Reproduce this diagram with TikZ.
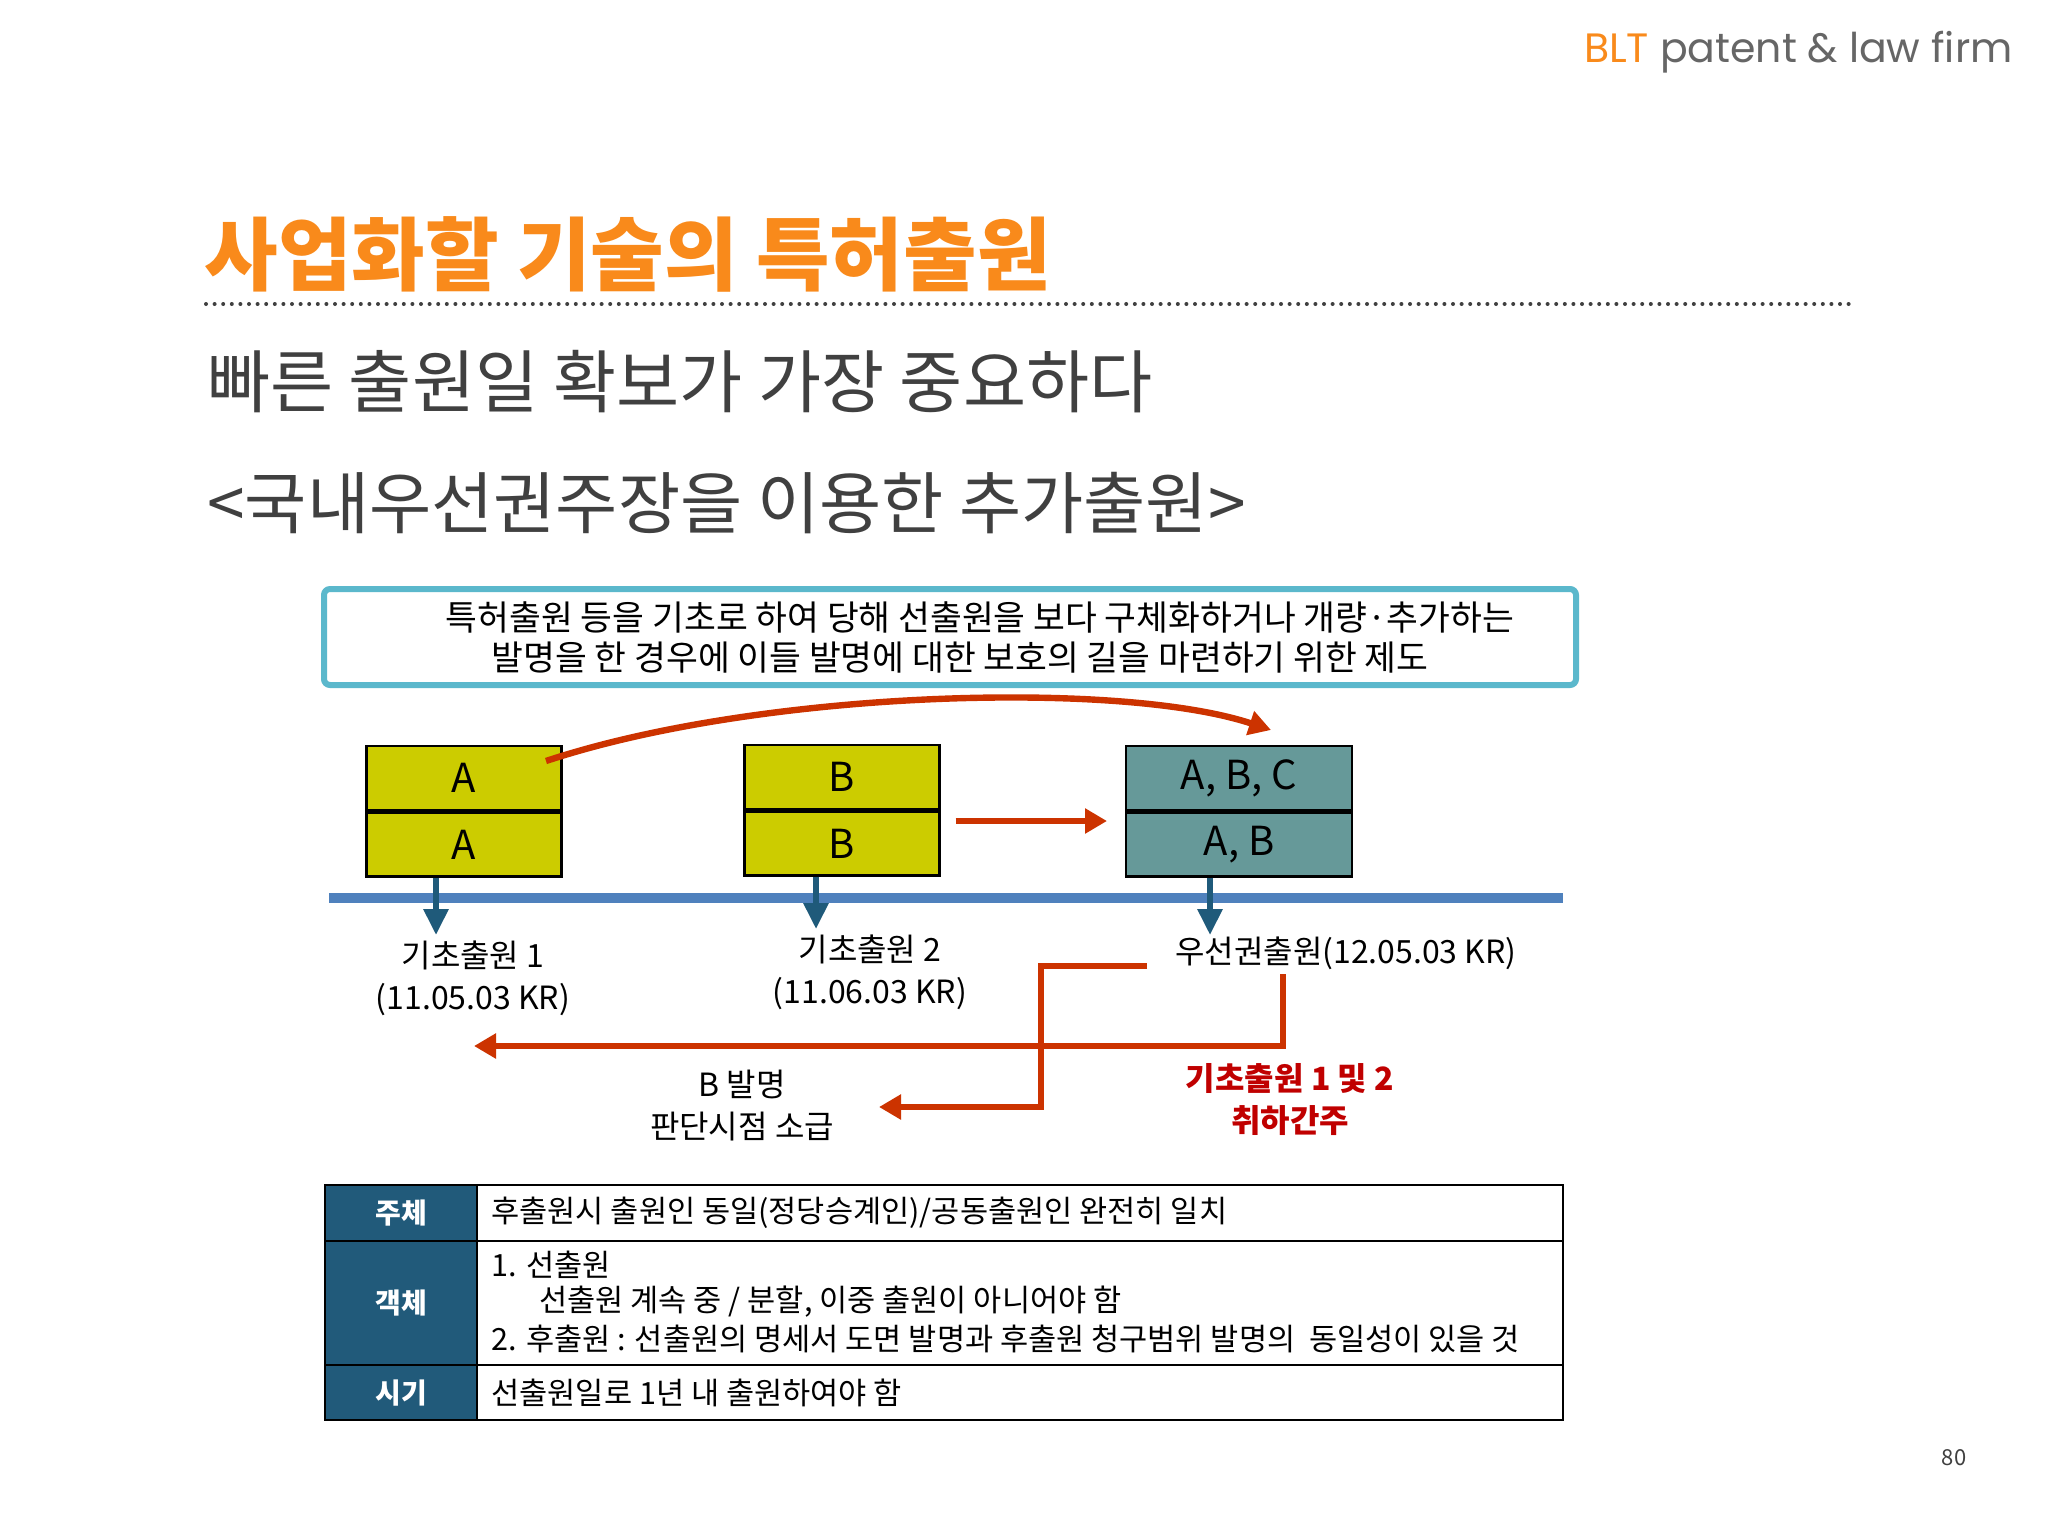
\documentclass[tikz,border=0pt]{standalone}
\usepackage{fontspec}
\setmainfont{Noto Sans CJK KR}
\newfontfamily\popp{Poppins}
\usetikzlibrary{arrows.meta}
\definecolor{orng}{HTML}{F98A1B}
\definecolor{dgray}{HTML}{404040}
\definecolor{ylw}{HTML}{CCCC00}
\definecolor{tealb}{HTML}{669999}
\definecolor{frame}{HTML}{5BB8CC}
\definecolor{tline}{HTML}{4F81BD}
\definecolor{darr}{HTML}{1F5A7A}
\definecolor{redarr}{HTML}{CC3300}
\definecolor{redtxt}{HTML}{C00000}
\definecolor{thead}{HTML}{215A7A}
\tikzset{
  cell/.style={draw=black,line width=1.2pt,minimum width=97.5pt,minimum height=32pt,inner sep=0pt,font=\fontsize{20}{22}\selectfont},
  dnarr/.style={draw=darr,line width=3pt,-{Triangle[width=12pt,length=13pt]}},
  rarr/.style={draw=redarr,line width=3.2pt,-{Triangle[width=12pt,length=11pt]}},
  lbl/.style={font=\fontsize{16}{18}\selectfont,align=center,inner sep=0pt},
  ttxt/.style={anchor=west,font=\fontsize{15.3}{17}\selectfont,inner sep=0pt},
  thd/.style={font=\bfseries\fontsize{14}{16}\selectfont,text=white,inner sep=0pt}
}
\begin{document}
\begin{tikzpicture}[x=0.5pt,y=-0.5pt]
\useasboundingbox[fill=white] (0,0) rectangle (2048,1536);
% header
\node[anchor=east,inner sep=0pt,font=\popp\fontsize{20.5}{24}\selectfont] (hdr) at (2013,52) {\textcolor{orng}{BLT} \textcolor{dgray!80}{patent \& law firm}};
\node[anchor=west,inner sep=0pt,text=orng,font=\bfseries\fontsize{40}{46}\selectfont] (title) at (204,254) {사업화할 기술의 특허출원};
\draw[dgray,line width=2pt,dash pattern=on 0pt off 4.3pt,line cap=round] (206,304) -- (1850,304);
\node[anchor=west,inner sep=0pt,text=dgray,font=\fontsize{34.3}{40}\selectfont] (sub1) at (207,382) {빠른 출원일 확보가 가장 중요하다};
\node[anchor=west,inner sep=0pt,text=dgray,font=\fontsize{33.8}{40}\selectfont] (sub2) at (207,503) {<국내우선권주장을 이용한 추가출원>};
% definition box
\node[draw=frame,line width=3pt,rounded corners=3pt,minimum width=626pt,minimum height=48pt,fill=white,
  align=center,font=\fontsize{17.3}{20}\selectfont] (def) at (950,637)
  {\hspace*{30pt}특허출원 등을 기초로 하여 당해 선출원을 보다 구체화하거나 개량·추가하는\\\hspace*{10pt}발명을 한 경우에 이들 발명에 대한 보호의 길을 마련하기 위한 제도};
% boxes
\node[cell,fill=ylw] (a1) at (464,778) {A};
\node[cell,fill=ylw,anchor=north] (a2) at (a1.south) {A};
\node[cell,fill=ylw] (b1) at (842,777) {B};
\node[cell,fill=ylw,anchor=north] (b2) at (b1.south) {B};
\node[cell,fill=tealb,minimum width=113pt] (c1) at (1239,778) {A, B, C};
\node[cell,fill=tealb,minimum width=113pt,anchor=north] (c2) at (c1.south) {A, B};
% timeline
\coordinate (tl1) at (329,898); \coordinate (tl2) at (1563,898);
\draw[tline,line width=5pt] (tl1) -- (tl2);
\coordinate (d1) at (436,935); \coordinate (d2) at (816,929); \coordinate (d3) at (1210,935);
\draw[dnarr] (a2.south -| d1) -- (d1);
\draw[dnarr] (b2.south -| d2) -- (d2);
\draw[dnarr] (c2.south -| d3) -- (d3);
% labels
\node[lbl] (l1) at (473,978) {기초출원 1\\[3pt](11.05.03 KR)};
\node[lbl] (l2) at (870,972) {기초출원 2\\[3pt](11.06.03 KR)};
\node[lbl] (l3) at (1346,953) {우선권출원(12.05.03 KR)};
% red arrows
\coordinate (cv) at (1271,730);
\draw[rarr] (546,761) .. controls (760,690) and (1120,680) .. (cv);
\draw[rarr] (b2.east |- 0,821) ++(15,0) -- (1107,821);
\coordinate (r1) at (1283,974); \coordinate (r2) at (474,1046);
\draw[rarr] (r1) |- (r2);
\coordinate (s1) at (1147,966); \coordinate (s2) at (1041,1107); \coordinate (s3) at (879,1107);
\draw[rarr] (s1) -| (s2) -- (s3);
\node[lbl] (bt) at (742,1106) {B 발명\\[3pt]판단시점 소급};
\node[lbl,text=redtxt,font=\bfseries\fontsize{16}{18}\selectfont] (rt) at (1290,1100) {기초출원 1 및 2\\[3pt]취하간주};
% table
\fill[thead] (325,1185) rectangle (477,1420);
\draw[black,line width=1.2pt] (325,1185) rectangle (1563,1420);
\draw[black,line width=1.2pt] (325,1241) -- (1563,1241) (325,1365) -- (1563,1365) (477,1185) -- (477,1420);
\node[thd] (h1) at (401,1213) {주체};
\node[thd] (h2) at (401,1303) {객체};
\node[thd] (h3) at (401,1393) {시기};
\node[ttxt] (t1) at (491,1213) {후출원시 출원인 동일(정당승계인)/공동출원인 완전히 일치};
\node[ttxt] (t2) at (491,1265) {1. 선출원};
\node[ttxt] (t3) at (539,1302) {선출원 계속 중 / 분할, 이중 출원이 아니어야 함};
\node[ttxt] (t4) at (491,1339) {2. 후출원 : 선출원의 명세서 도면 발명과 후출원 청구범위 발명의\ \ 동일성이 있을 것};
\node[ttxt] (t5) at (491,1393) {선출원일로 1년 내 출원하여야 함};
\node[inner sep=0pt,text=dgray,font=\fontsize{11}{13}\selectfont] (pg) at (1954,1458) {80};
\end{tikzpicture}
\end{document}
